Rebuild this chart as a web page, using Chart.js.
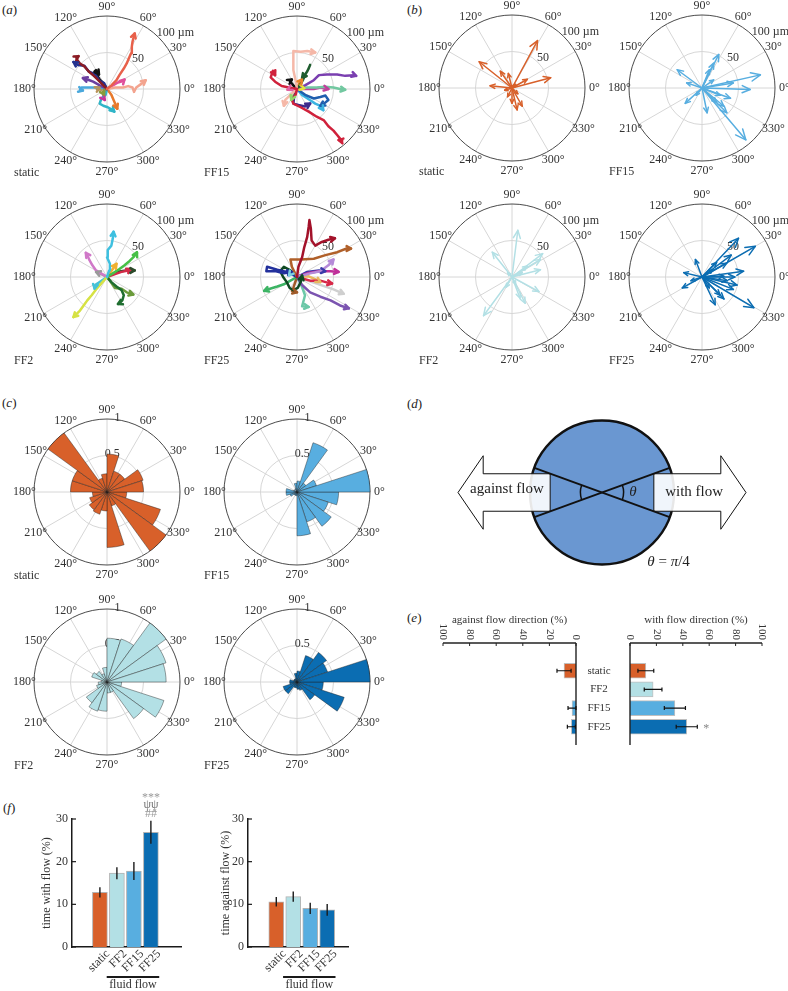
<!DOCTYPE html>
<html>
<head>
<meta charset="utf-8">
<title>cell migration under fluid flow</title>
<script src="https://cdn.jsdelivr.net/npm/chart.js@4.4.1/dist/chart.umd.min.js"></script>
<style>
  html, body { margin: 0; padding: 0; background: #fff; }
  body { position: relative; width: 788px; height: 991px; overflow: hidden;
         font-family: "Liberation Serif", "Times New Roman", serif; color: #222; }
  canvas { position: absolute; }
  .panel { position: absolute; font-size: 13px; line-height: 13px; }
</style>
</head>
<body>
<div class="panel" style="left:2px;top:3px">(<i>a</i>)</div>
<div class="panel" style="left:407px;top:3px">(<i>b</i>)</div>
<div class="panel" style="left:2px;top:396px">(<i>c</i>)</div>
<div class="panel" style="left:407px;top:397px">(<i>d</i>)</div>
<div class="panel" style="left:407px;top:611px">(<i>e</i>)</div>
<div class="panel" style="left:3px;top:801px">(<i>f</i>)</div>
<script>
const groups = ['static', 'FF2', 'FF15', 'FF25'];
const groupColors = ['#d8602a', '#b3e0e5', '#58aee0', '#0b6db2'];

// (a) cell tracks, displacement from start point in µm (x to the right, y up)
const tracksStatic = [
  [[0,0],[6,5],[13,12],[17,19],[23,28],[27,35],[30,42],[33,49],[34,58],[35,65],[37,73],[38,76]],
  [[0,0],[11,2],[22,2],[29,4],[35,2],[37,-4],[40,2],[47,7],[53,12]],
  [[0,0],[-5,5],[-12,12],[-18,18],[-25,24],[-31,31],[-37,35],[-41,40],[-42,43],[-39,45]],
  [[0,0],[-4,8],[-11,12],[-16,20],[-25,24],[-31,32],[-40,33],[-46,37]],
  [[0,0],[-5,8],[-10,13],[-14,19],[-17,24],[-15,26],[-11,20]],
  [[0,0],[-10,5],[-19,10],[-27,13],[-33,15]],
  [[0,0],[-10,2],[-19,2],[-27,2],[-35,2],[-37,-1],[-33,-2]],
  [[0,0],[-2,-8],[-8,-14],[-10,-20],[-5,-23],[1,-25],[8,-29],[10,-31]],
  [[0,0],[-3,-6],[-6,-11],[-3,-15]],
  [[0,0],[6,-8],[9,-15],[12,-22],[14,-27]],
  [[0,0],[8,5],[15,9],[22,11],[24,13]],
  [[0,0],[-8,-1],[-14,0],[-10,2]],
  [[0,0],[-6,-4],[-4,-8]]
];
const trackColorsStatic = ['#e8604a','#f3a48f','#8b1c24','#24318f','#111111','#6c3fa0','#4aa8dc',
  '#2fb5c8','#cc3399','#e8792b','#e0509a','#b8925a','#8a9a3a'];

const tracksFF15 = [
  [[0,0],[-2,-8],[-7,-15],[-5,-20],[5,-25],[16,-31],[27,-38],[37,-43],[43,-51],[50,-57],[55,-63],[59,-68],[62,-71],[57,-70]],
  [[0,0],[-11,2],[-21,4],[-30,10],[-36,16],[-33,25],[-30,19]],
  [[0,0],[-2,12],[-5,26],[-5,40],[-5,52],[5,51],[14,52],[25,50]],
  [[0,0],[-9,-8],[-16,-15],[-18,-23]],
  [[0,0],[4,5],[8,12],[11,19],[16,28],[18,33],[14,24],[7,15]],
  [[0,0],[-5,5],[-10,11],[-7,13]],
  [[0,0],[11,5],[23,12],[30,19],[41,20],[55,20],[66,18],[78,19],[81,18]],
  [[0,0],[14,2],[27,2],[39,3],[50,2],[59,0],[66,-1]],
  [[0,0],[11,0],[23,0],[32,2],[43,0]],
  [[0,0],[11,-8],[23,-13],[32,-11],[39,-9],[43,-15],[37,-20],[32,-23]],
  [[0,0],[-4,-11],[-5,-20],[2,-22],[11,-24],[18,-20]],
  [[0,0],[7,-8],[16,-14],[25,-20],[32,-23],[36,-29]],
  [[0,0],[5,2],[10,1]],
  [[0,0],[-5,-8],[-8,-15]],
  [[0,0],[3,8],[7,13]],
  [[0,0],[-9,1],[-13,-1]]
];
const trackColorsFF15 = ['#d0213b','#d0213b','#f5b8a8','#f5b8a8','#1e5c2e','#111111','#7a3fb0','#72c8a0',
  '#c0409c','#1f5fae','#3c2a8c','#3cb4e0','#e6e03c','#8fd86a','#e8842c','#e060a0'];

const tracksFF2 = [
  [[0,0],[3,9],[4,18],[0,27],[1,37],[6,43],[8,53],[9,62]],
  [[0,0],[-8,-9],[-15,-17],[-21,-25],[-27,-32],[-32,-39],[-37,-46],[-43,-52],[-46,-55]],
  [[0,0],[-8,5],[-15,9],[-20,16],[-24,23],[-27,30],[-29,33]],
  [[0,0],[8,5],[17,11],[24,16],[31,22],[37,28],[40,32],[41,34]],
  [[0,0],[6,-7],[13,-13],[20,-18],[23,-25],[21,-32],[17,-36],[15,-37]],
  [[0,0],[11,4],[20,7],[29,9],[33,11]],
  [[0,0],[6,-8],[11,-15],[20,-16],[27,-21],[36,-24]],
  [[0,0],[13,7],[26,9],[38,9]],
  [[0,0],[-10,-7],[-16,-11],[-17,-16]],
  [[0,0],[8,11],[13,18]],
  [[0,0],[-10,5],[-15,7]]
];
const trackColorsFF2 = ['#3ec0e0','#d6e244','#d078c8','#46c046','#1f6e30','#d42a48','#6a9a3a',
  '#2a4a2a','#46c2d8','#f0b030','#9a9a9a'];

const tracksFF25 = [
  [[0,0],[2,14],[7,27],[10,41],[14,55],[16,69],[17,78],[19,66],[20,50],[25,43],[34,48],[43,51],[52,53]],
  [[0,0],[-7,14],[-9,24],[5,24],[23,25],[39,30],[55,34],[68,39],[74,39]],
  [[0,0],[-14,7],[-27,10],[-41,14],[-42,8],[-30,8],[-18,5],[-7,7]],
  [[0,0],[-9,9],[-18,14],[-23,8],[-19,0],[-14,-7],[-10,-15],[-5,-18],[1,-15],[5,-7],[7,2]],
  [[0,0],[-9,-5],[-18,-10],[-27,-13],[-37,-16],[-45,-19]],
  [[0,0],[7,-11],[18,-21],[32,-27],[46,-32],[59,-39],[71,-43]],
  [[0,0],[18,5],[32,8],[43,16],[50,24]],
  [[0,0],[14,5],[30,8],[46,8],[57,7]],
  [[0,0],[18,-5],[32,-5],[43,-8],[48,-9]],
  [[0,0],[7,-14],[11,-25],[7,-40],[16,-41]],
  [[0,0],[14,7],[30,9],[39,8]],
  [[0,0],[27,-9],[50,-17],[64,-23]],
  [[0,0],[-7,7],[-11,2]],
  [[0,0],[16,1],[27,-4],[32,-7]],
  [[0,0],[-5,-15],[-7,-19],[0,-21]]
];
const trackColorsFF25 = ['#a3122a','#b0602a','#22309c','#0f4a22','#3cb464','#7b54b0','#b58ad8','#c0309a',
  '#d82848','#6cc8a8','#3a3aa8','#cfcfcf','#7ad0e0','#e8b860','#a05a28'];

// (b) net displacement of each cell, µm
const netStatic = [[35,65],[-45,36],[53,14],[-30,3],[-16,23],[-5,20],[21,12],[7,-30],[14,-25],[0,-21],[-6,-12],[8,-8],[-10,-3],[5,5]];
const netFF15 = [[80,18],[66,-2],[60,-71],[23,46],[-34,25],[-23,-21],[39,-14],[30,-25],[16,11],[7,-34],[34,-34],[-21,7],[43,7],[16,34],[25,-10],[20,-20],[10,25],[-8,-10]];
const netFF2 = [[8,64],[-39,-53],[-27,34],[42,32],[39,24],[39,10],[37,-20],[18,-36],[11,-29],[21,15],[14,6],[-8,-14],[5,-10],[-6,6]];
const netFF25 = [[73,42],[50,53],[57,8],[71,-42],[48,-11],[18,-38],[-27,-15],[-25,6],[-9,24],[34,19],[43,-17],[30,1],[25,-25],[40,30],[15,10],[35,-5],[10,-15],[-15,-5],[20,20],[45,0],[30,-30]];

// (c) rose histograms: 20 bins of 18°, normalised to the largest bin
const binLabels = ['0–18°','18–36°','36–54°','54–72°','72–90°','90–108°','108–126°','126–144°','144–162°','162–180°',
  '180–198°','198–216°','216–234°','234–252°','252–270°','270–288°','288–306°','306–324°','324–342°','342–360°'];
const roseStatic = [0.50,0.52,0.30,0.30,0.52,0.25,0.20,1.00,0.50,0.50,0.20,0.25,0.30,0.32,0.26,0.76,0.20,1.00,0.77,0.27];
const roseFF15   = [1.00,0.28,0.15,0.71,0.15,0.12,0.05,0.00,0.05,0.15,0.15,0.10,0.05,0.05,0.05,0.60,0.43,0.58,0.45,0.57];
const roseFF2    = [0.81,0.85,1.00,0.62,0.60,0.20,0.12,0.18,0.22,0.08,0.12,0.15,0.35,0.42,0.40,0.15,0.15,0.62,0.82,0.20];
const roseFF25   = [1.00,0.44,0.50,0.38,0.15,0.12,0.05,0.05,0.05,0.10,0.10,0.20,0.20,0.08,0.08,0.10,0.12,0.30,0.68,0.36];

// polar axes
const spokeAngles = [0, 30, 60, 90, 120, 150, 180, 210, 240, 270, 300, 330];

// (e) share of cells moving against / with flow (%)
const againstDir = [9, 0, 3, 3.5];
const againstDirErr = [5.3, 0, 3, 3];
const withDir = [12, 17.5, 34, 43];
const withDirErr = [6, 6.7, 8, 8];
const withDirSig = ['', '', '', '*'];
const dirTicks = [0, 20, 40, 60, 80, 100];

// (f) time spent moving with / against flow (%)
const timeWith = [12.8, 17.3, 17.8, 26.9];
const timeWithErr = [1.2, 1.4, 2.1, 2.7];
const timeWithSig = [[], [], [], ['##', 'ψψ', '***']];
const timeAgainst = [10.6, 11.8, 9.05, 8.7];
const timeAgainstErr = [1.1, 1.2, 1.3, 1.35];

// (d) schematic, in units of the cell radius
const cellR = 1, arrowTip = 2.0, headBase = 1.65, shaftInner = 0.72;
const headHalf = 0.51, shaftHalf = 0.26, sectorHalfDeg = 20, angleArcR = 0.3;

const SERIF = '"Liberation Serif", "Times New Roman", serif';
Chart.defaults.font.family = SERIF;
Chart.defaults.color = '#333';

function makeCanvas(left, top, w, h) {
  const c = document.createElement('canvas');
  c.width = w; c.height = h;
  c.style.left = left + 'px'; c.style.top = top + 'px';
  c.style.width = w + 'px'; c.style.height = h + 'px';
  document.body.appendChild(c);
  return c.getContext('2d');
}

function polarGeo(chart) {
  const r = chart.scales.r;
  if (r) return { cx: r.xCenter, cy: r.yCenter, rad: v => r.getDistanceFromCenterForValue(v) };
  const { x, y } = chart.scales;
  const cx = x.getPixelForValue(0), cy = y.getPixelForValue(0);
  return { cx, cy, rad: v => x.getPixelForValue(v) - cx };
}

const polarGrid = {
  id: 'polarGrid',
  beforeDatasetsDraw(chart, args, o) {
    const g = polarGeo(chart);
    const ctx = chart.ctx;
    const outer = g.rad(o.max);
    ctx.save();
    ctx.lineWidth = 1;
    ctx.strokeStyle = '#d6d6d6';
    spokeAngles.forEach(a => {
      const t = a * Math.PI / 180;
      ctx.beginPath();
      ctx.moveTo(g.cx, g.cy);
      ctx.lineTo(g.cx + outer * Math.cos(t), g.cy - outer * Math.sin(t));
      ctx.stroke();
    });
    o.rings.forEach(v => {
      ctx.beginPath(); ctx.arc(g.cx, g.cy, g.rad(v), 0, 2 * Math.PI); ctx.stroke();
    });
    ctx.strokeStyle = '#4a4a4a';
    ctx.beginPath(); ctx.arc(g.cx, g.cy, outer, 0, 2 * Math.PI); ctx.stroke();

    ctx.fillStyle = '#333';
    ctx.font = '12px ' + SERIF;
    ctx.textAlign = 'center'; ctx.textBaseline = 'middle';
    spokeAngles.forEach(a => {
      const t = a * Math.PI / 180;
      ctx.fillText(a + '°', g.cx + (outer + 9.5) * Math.cos(t), g.cy - (outer + 9.5) * Math.sin(t));
    });

    const la = o.labelAngle * Math.PI / 180;
    o.ringLabelVals.forEach((v, i) => {
      const r = g.rad(v);
      if (o.labelMode === 'top') {
        ctx.textAlign = 'center'; ctx.textBaseline = 'middle';
        ctx.fillText(o.ringLabels[i], g.cx + (r + 2) * Math.cos(la), g.cy - (r + 2) * Math.sin(la));
      } else {
        ctx.textAlign = 'left'; ctx.textBaseline = 'alphabetic';
        ctx.fillText(o.ringLabels[i], g.cx + r * Math.cos(la), g.cy - r * Math.sin(la));
      }
    });

    ctx.textAlign = 'left'; ctx.textBaseline = 'middle';
    ctx.fillText(o.group, g.cx - 93, g.cy + 84);
    ctx.restore();
  }
};

const arrowHeads = {
  id: 'arrowHeads',
  afterDatasetsDraw(chart, args, o) {
    const ctx = chart.ctx;
    chart.data.datasets.forEach((ds, i) => {
      const pts = chart.getDatasetMeta(i).data;
      const a = pts[pts.length - 2], b = pts[pts.length - 1];
      const dx = b.x - a.x, dy = b.y - a.y, len = Math.hypot(dx, dy);
      if (len < 0.5) return;
      const h = o.fixed ? o.fixed : 2.5 + 0.13 * len;
      const ang = Math.atan2(dy, dx), sp = o.spread;
      ctx.save();
      ctx.strokeStyle = ds.borderColor; ctx.lineWidth = ds.borderWidth;
      ctx.lineCap = 'round'; ctx.lineJoin = 'round';
      ctx.beginPath();
      ctx.moveTo(b.x - h * Math.cos(ang - sp), b.y - h * Math.sin(ang - sp));
      ctx.lineTo(b.x, b.y);
      ctx.lineTo(b.x - h * Math.cos(ang + sp), b.y - h * Math.sin(ang + sp));
      ctx.stroke();
      ctx.restore();
    });
  }
};

function polarScatter(cx, cy, sets, colors, width, group, head) {
  new Chart(makeCanvas(cx - 100, cy - 100, 200, 200), {
    type: 'scatter',
    data: {
      datasets: sets.map((pts, i) => ({
        data: pts.map(p => ({ x: p[0], y: p[1] })),
        showLine: true, pointRadius: 0, borderWidth: width,
        borderColor: colors[i], borderCapStyle: 'round', borderJoinStyle: 'round'
      }))
    },
    options: {
      responsive: false, animation: false, events: [],
      layout: { padding: 27 },
      scales: {
        x: { display: false, min: -100, max: 100 },
        y: { display: false, min: -100, max: 100 }
      },
      plugins: {
        legend: { display: false }, tooltip: { enabled: false },
        polarGrid: { max: 100, rings: [50], ringLabelVals: [50, 100], ringLabels: ['50', '100 µm'],
                     labelAngle: 47, labelMode: 'side', group: group },
        arrowHeads: head
      }
    },
    plugins: [polarGrid, arrowHeads]
  });
}

// (a) tracks
const trackHead = { fixed: 5, spread: 0.5 };
polarScatter(107, 89, tracksStatic, trackColorsStatic, 2.5, 'static', trackHead);
polarScatter(297, 89, tracksFF15, trackColorsFF15, 2.5, 'FF15', trackHead);
polarScatter(107, 277, tracksFF2, trackColorsFF2, 2.5, 'FF2', trackHead);
polarScatter(297, 277, tracksFF25, trackColorsFF25, 2.5, 'FF25', trackHead);

// (b) net displacement arrows
const asVector = v => [[0, 0], v];
const netHead = { fixed: 0, spread: 0.42 };
polarScatter(512, 88, netStatic.map(asVector), netStatic.map(() => groupColors[0]), 1.5, 'static', netHead);
polarScatter(702, 88, netFF15.map(asVector), netFF15.map(() => groupColors[2]), 1.5, 'FF15', netHead);
polarScatter(512, 277, netFF2.map(asVector), netFF2.map(() => groupColors[1]), 1.5, 'FF2', netHead);
polarScatter(702, 277, netFF25.map(asVector), netFF25.map(() => groupColors[3]), 1.5, 'FF25', netHead);

// (c) rose diagrams; Chart.js sweeps clockwise from startAngle, so bins go in reverse
function roseChart(cx, cy, bins, color, group) {
  new Chart(makeCanvas(cx - 100, cy - 100, 200, 200), {
    type: 'polarArea',
    data: {
      labels: binLabels.slice().reverse(),
      datasets: [{ data: bins.slice().reverse(), backgroundColor: color,
                   borderColor: 'rgba(30,30,30,0.7)', borderWidth: 0.6 }]
    },
    options: {
      responsive: false, animation: false, events: [],
      layout: { padding: 27 },
      scales: {
        r: { min: 0, max: 1, startAngle: 90,
             ticks: { display: false }, grid: { display: false },
             angleLines: { display: false }, pointLabels: { display: false } }
      },
      plugins: {
        legend: { display: false }, tooltip: { enabled: false },
        polarGrid: { max: 1, rings: [0.5], ringLabelVals: [0.5, 1], ringLabels: ['0.5', '1'],
                     labelAngle: 82, labelMode: 'top', group: group }
      }
    },
    plugins: [polarGrid]
  });
}
roseChart(107, 492, roseStatic, groupColors[0], 'static');
roseChart(297, 492, roseFF15, groupColors[2], 'FF15');
roseChart(107, 682, roseFF2, groupColors[1], 'FF2');
roseChart(297, 682, roseFF25, groupColors[3], 'FF25');

// (d) schematic of the with/against flow sectors
const diagram = {
  id: 'diagram',
  afterDraw(chart) {
    const { x, y } = chart.scales;
    const ctx = chart.ctx;
    const X = v => x.getPixelForValue(v), Y = v => y.getPixelForValue(v);
    const u = X(1) - X(0), cx = X(0), cy = Y(0);
    ctx.save();
    ctx.beginPath(); ctx.arc(cx, cy, cellR * u, 0, 2 * Math.PI);
    ctx.fillStyle = '#6a97d1'; ctx.fill();
    ctx.lineWidth = 2.4; ctx.strokeStyle = '#111'; ctx.stroke();

    [-1, 1].forEach(s => {
      const pts = [[shaftInner, shaftHalf], [headBase, shaftHalf], [headBase, headHalf], [arrowTip, 0],
                   [headBase, -headHalf], [headBase, -shaftHalf], [shaftInner, -shaftHalf]];
      ctx.beginPath();
      pts.forEach(([px, py], k) => { k ? ctx.lineTo(X(s * px), Y(py)) : ctx.moveTo(X(s * px), Y(py)); });
      ctx.closePath();
      ctx.fillStyle = 'rgba(255,255,255,0.9)'; ctx.fill();
      ctx.lineWidth = 1; ctx.strokeStyle = '#111'; ctx.stroke();
    });

    ctx.lineWidth = 2; ctx.strokeStyle = '#111';
    [sectorHalfDeg, -sectorHalfDeg].forEach(a => {
      const t = a * Math.PI / 180;
      ctx.beginPath();
      ctx.moveTo(cx - u * Math.cos(t), cy + u * Math.sin(t));
      ctx.lineTo(cx + u * Math.cos(t), cy - u * Math.sin(t));
      ctx.stroke();
    });
    const t = sectorHalfDeg * Math.PI / 180;
    ctx.lineWidth = 1.5;
    ctx.beginPath(); ctx.arc(cx, cy, angleArcR * u, -t, t); ctx.stroke();
    ctx.beginPath(); ctx.arc(cx, cy, angleArcR * u, Math.PI - t, Math.PI + t); ctx.stroke();

    ctx.fillStyle = '#222';
    ctx.textBaseline = 'middle'; ctx.textAlign = 'center';
    ctx.font = '15px ' + SERIF;
    ctx.fillText('against flow', X(-1.32), Y(0.05));
    ctx.fillText('with flow', X(1.28), Y(0));
    ctx.font = 'italic 15px ' + SERIF;
    ctx.fillText('θ', X(0.43), Y(0));

    // θ = π/4
    ctx.textAlign = 'left';
    let px = X(0.63);
    const parts = [['θ', true], [' = ', false], ['π', true], ['/4', false]];
    parts.forEach(([txt, it]) => {
      ctx.font = (it ? 'italic ' : '') + '15px ' + SERIF;
      ctx.fillText(txt, px, Y(-0.97));
      px += ctx.measureText(txt).width;
    });
    ctx.restore();
  }
};
new Chart(makeCanvas(440, 406, 324, 173), {
  type: 'scatter',
  data: { datasets: [] },
  options: {
    responsive: false, animation: false, events: [],
    layout: { padding: 0 },
    scales: { x: { display: false, min: -2.25, max: 2.25 }, y: { display: false, min: -1.2, max: 1.2 } },
    plugins: { legend: { display: false }, tooltip: { enabled: false } }
  },
  plugins: [diagram]
});

// (e) horizontal bars with top axes
const eAxes = {
  id: 'eAxes',
  afterDatasetsDraw(chart, args, o) {
    const { x, y } = chart.scales;
    const a = chart.chartArea, ctx = chart.ctx;
    const x0 = x.getPixelForValue(0);
    ctx.save();
    ctx.strokeStyle = '#222'; ctx.lineWidth = 1.4;
    ctx.beginPath(); ctx.moveTo(a.left, a.top); ctx.lineTo(a.right, a.top); ctx.stroke();
    ctx.beginPath(); ctx.moveTo(x0, a.top); ctx.lineTo(x0, a.bottom); ctx.stroke();

    ctx.lineWidth = 1;
    ctx.font = '11px ' + SERIF; ctx.fillStyle = '#333';
    dirTicks.forEach(v => {
      const px = x.getPixelForValue(v);
      ctx.beginPath(); ctx.moveTo(px, a.top); ctx.lineTo(px, a.top + 3); ctx.stroke();
      ctx.save();
      ctx.translate(px, a.top - 3); ctx.rotate(Math.PI / 2);
      ctx.textAlign = 'right'; ctx.textBaseline = 'middle';
      ctx.fillText(String(v), 0, 0);
      ctx.restore();
    });
    ctx.textAlign = 'center'; ctx.textBaseline = 'middle';
    ctx.fillText(o.title, (a.left + a.right) / 2, a.top - 23);

    const vals = chart.data.datasets[0].data;
    ctx.strokeStyle = '#111'; ctx.lineWidth = 1.2;
    chart.getDatasetMeta(0).data.forEach((bar, i) => {
      if (o.cats) {
        ctx.fillStyle = '#333'; ctx.font = '11px ' + SERIF;
        ctx.fillText(o.cats[i], a.left - 31, bar.y);
      }
      const e = o.errs[i];
      if (!e) return;
      const v = vals[i].x;
      const p1 = x.getPixelForValue(v - e), p2 = x.getPixelForValue(v + e);
      ctx.beginPath();
      ctx.moveTo(p1, bar.y); ctx.lineTo(p2, bar.y);
      ctx.moveTo(p1, bar.y - 2); ctx.lineTo(p1, bar.y + 2);
      ctx.moveTo(p2, bar.y - 2); ctx.lineTo(p2, bar.y + 2);
      ctx.stroke();
      if (o.sig && o.sig[i]) {
        ctx.fillStyle = '#888'; ctx.font = '12px ' + SERIF;
        ctx.fillText(o.sig[i], p2 + 9, bar.y + 2);
      }
    });
    ctx.restore();
  }
};

function dirChart(left, width, pad, values, errs, reverse, title, cats, sig) {
  new Chart(makeCanvas(left, 600, width, 150), {
    type: 'bar',
    data: {
      datasets: [{
        data: values.map((v, i) => ({ x: v, y: i + 1 })),
        backgroundColor: groupColors, borderColor: 'rgba(0,0,0,0.25)', borderWidth: 1,
        barThickness: 15
      }]
    },
    options: {
      indexAxis: 'y', responsive: false, animation: false, events: [],
      layout: { padding: pad },
      scales: {
        x: { type: 'linear', display: false, min: 0, max: 100, reverse: reverse },
        y: { type: 'linear', display: false, min: 0.06, max: 4.43, reverse: true }
      },
      plugins: {
        legend: { display: false }, tooltip: { enabled: false },
        eAxes: { title: title, errs: errs, cats: cats, sig: sig }
      }
    },
    plugins: [eAxes]
  });
}
dirChart(430, 150, { left: 13, right: 4, top: 43, bottom: 5 }, againstDir, againstDirErr, true,
         'against flow direction (%)', null, null);
dirChart(575, 200, { left: 55, right: 13, top: 43, bottom: 5 }, withDir, withDirErr, false,
         'with flow direction (%)', groups, withDirSig);

// (f) vertical bars
const fExtras = {
  id: 'fExtras',
  afterDatasetsDraw(chart, args, o) {
    const { x, y } = chart.scales;
    const a = chart.chartArea, ctx = chart.ctx;
    const vals = chart.data.datasets[0].data;
    ctx.save();
    ctx.strokeStyle = '#1a1a1a'; ctx.lineWidth = 1.4;
    const markColors = ['#999', '#777', '#999'];
    const markLift = [4, 12.5, 19.5];
    chart.getDatasetMeta(0).data.forEach((bar, i) => {
      const v = vals[i].y, e = o.errs[i];
      const top = y.getPixelForValue(v + e);
      ctx.beginPath(); ctx.moveTo(bar.x, y.getPixelForValue(v - e)); ctx.lineTo(bar.x, top); ctx.stroke();
      (o.marks[i] || []).forEach((m, k) => {
        ctx.fillStyle = markColors[k]; ctx.font = '12px ' + SERIF;
        ctx.textAlign = 'center'; ctx.textBaseline = 'alphabetic';
        ctx.fillText(m, bar.x, top - markLift[k]);
      });
    });
    // inward tick marks on the y axis
    ctx.lineWidth = 1.2;
    y.ticks.forEach(t => {
      const py = y.getPixelForValue(t.value);
      ctx.beginPath(); ctx.moveTo(a.left, py); ctx.lineTo(a.left + 4, py); ctx.stroke();
    });
    // "fluid flow" bracket
    const ly = a.bottom + 30;
    const l1 = x.getPixelForValue(o.flowFrom), l2 = x.getPixelForValue(o.flowTo);
    ctx.lineWidth = 2;
    ctx.beginPath(); ctx.moveTo(l1, ly); ctx.lineTo(l2, ly); ctx.stroke();
    ctx.fillStyle = '#333'; ctx.font = '12px ' + SERIF;
    ctx.textAlign = 'center'; ctx.textBaseline = 'alphabetic';
    ctx.fillText('fluid flow', (l1 + l2) / 2, ly + 11);
    ctx.restore();
  }
};

function timeChart(left, width, pad, axisW, xMin, xMax, values, errs, marks, title) {
  new Chart(makeCanvas(left, 780, width, 211), {
    type: 'bar',
    data: {
      datasets: [{
        data: values.map((v, i) => ({ x: i + 1, y: v })),
        backgroundColor: groupColors, borderColor: 'rgba(0,0,0,0.3)', borderWidth: 1,
        barThickness: 15
      }]
    },
    options: {
      responsive: false, animation: false, events: [],
      layout: { padding: pad },
      scales: {
        x: {
          type: 'linear', min: xMin, max: xMax,
          grid: { display: false, drawTicks: false },
          border: { color: '#1a1a1a', width: 1.5 },
          ticks: { stepSize: 1, includeBounds: false, autoSkip: false, minRotation: 45, maxRotation: 45,
                   padding: 0, labelOffset: 8, font: { size: 12 }, color: '#333',
                   callback: v => groups[Math.round(v) - 1] || '' },
          afterFit: s => { s.height = 44; }
        },
        y: {
          min: 0, max: 30,
          grid: { display: false, drawTicks: false },
          border: { color: '#1a1a1a', width: 1.5 },
          ticks: { stepSize: 10, padding: 4, font: { size: 12 }, color: '#333' },
          title: { display: true, text: title, font: { size: 12 }, color: '#333' },
          afterFit: s => { s.width = axisW; }
        }
      },
      plugins: {
        legend: { display: false }, tooltip: { enabled: false },
        fExtras: { errs: errs, marks: marks, flowFrom: 1.4, flowTo: 4.49 }
      }
    },
    plugins: [fExtras]
  });
}
timeChart(0, 200, { left: 36, right: 19, top: 39, bottom: 0 }, 36, 0.16, 4.97,
          timeWith, timeWithErr, timeWithSig, 'time with flow (%)');
timeChart(190, 170, { left: 25, right: 12, top: 39, bottom: 0 }, 33, 0.07, 4.49,
          timeAgainst, timeAgainstErr, [], 'time against flow (%)');
</script>
</body>
</html>
